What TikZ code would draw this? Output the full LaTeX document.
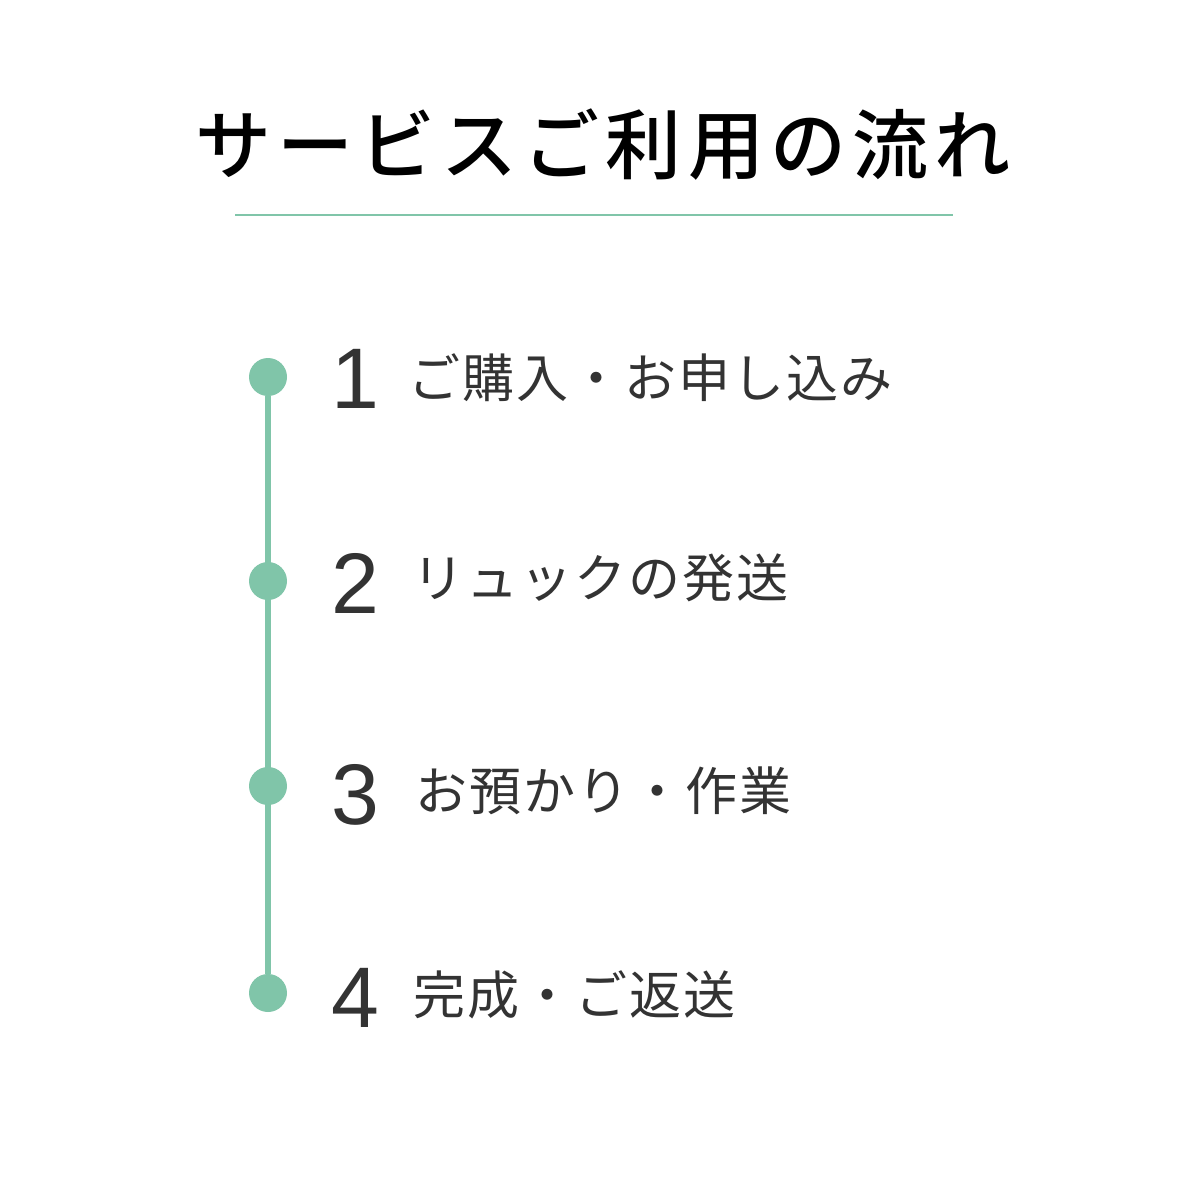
\documentclass[tikz,border=0pt]{standalone}
\usepackage{fontspec}
\newfontfamily\jpfont[LetterSpace=4]{Noto Sans CJK JP}
\newfontfamily\titlefont[LetterSpace=8]{Noto Sans CJK JP Medium}
\newfontfamily\numfont{Liberation Sans}
\definecolor{flowgreen}{HTML}{80C5A9}
\definecolor{flowtext}{HTML}{333333}
\tikzset{
  stepdot/.style={circle, fill=flowgreen, minimum size=19pt, inner sep=0pt},
  stepnum/.style={text=flowtext, font=\numfont\fontsize{43}{43}\selectfont, inner sep=0pt},
  steplabel/.style={anchor=west, text=flowtext, font=\jpfont\fontsize{26}{26}\selectfont, inner sep=0pt}
}
\begin{document}
\begin{tikzpicture}[x=0.5pt, y=-0.5pt]
\useasboundingbox [fill=white] (0,0) rectangle (1200,1200);

% heading
\node (title) at (603,145) [text=black, font=\titlefont\fontsize{38}{38}\selectfont, inner sep=0pt] {サービスご利用の流れ};
\coordinate (ruleL) at (235,215);
\coordinate (ruleR) at (953,215);
\draw [flowgreen, line width=1.2pt] (ruleL) -- (ruleR);

% timeline
\node (dot1) at (268,377) [stepdot] {};
\node (dot2) at (268,581) [stepdot] {};
\node (dot3) at (268,786) [stepdot] {};
\node (dot4) at (268,993) [stepdot] {};

\draw [flowgreen, line width=2.6pt] (dot1) -- (dot4);

\node (num1) at (355,379) [stepnum] {1};
\node (num2) at (355,583) [stepnum] {2};
\node (num3) at (355,795) [stepnum] {3};
\node (num4) at (355,998) [stepnum] {4};

\node (lab1) at (408,378) [steplabel] {ご購入・お申し込み};
\node (lab2) at (412,578) [steplabel] {リュックの発送};
\node (lab3) at (415,791) [steplabel] {お預かり・作業};
\node (lab4) at (413,995) [steplabel] {完成・ご返送};

\end{tikzpicture}
\end{document}
